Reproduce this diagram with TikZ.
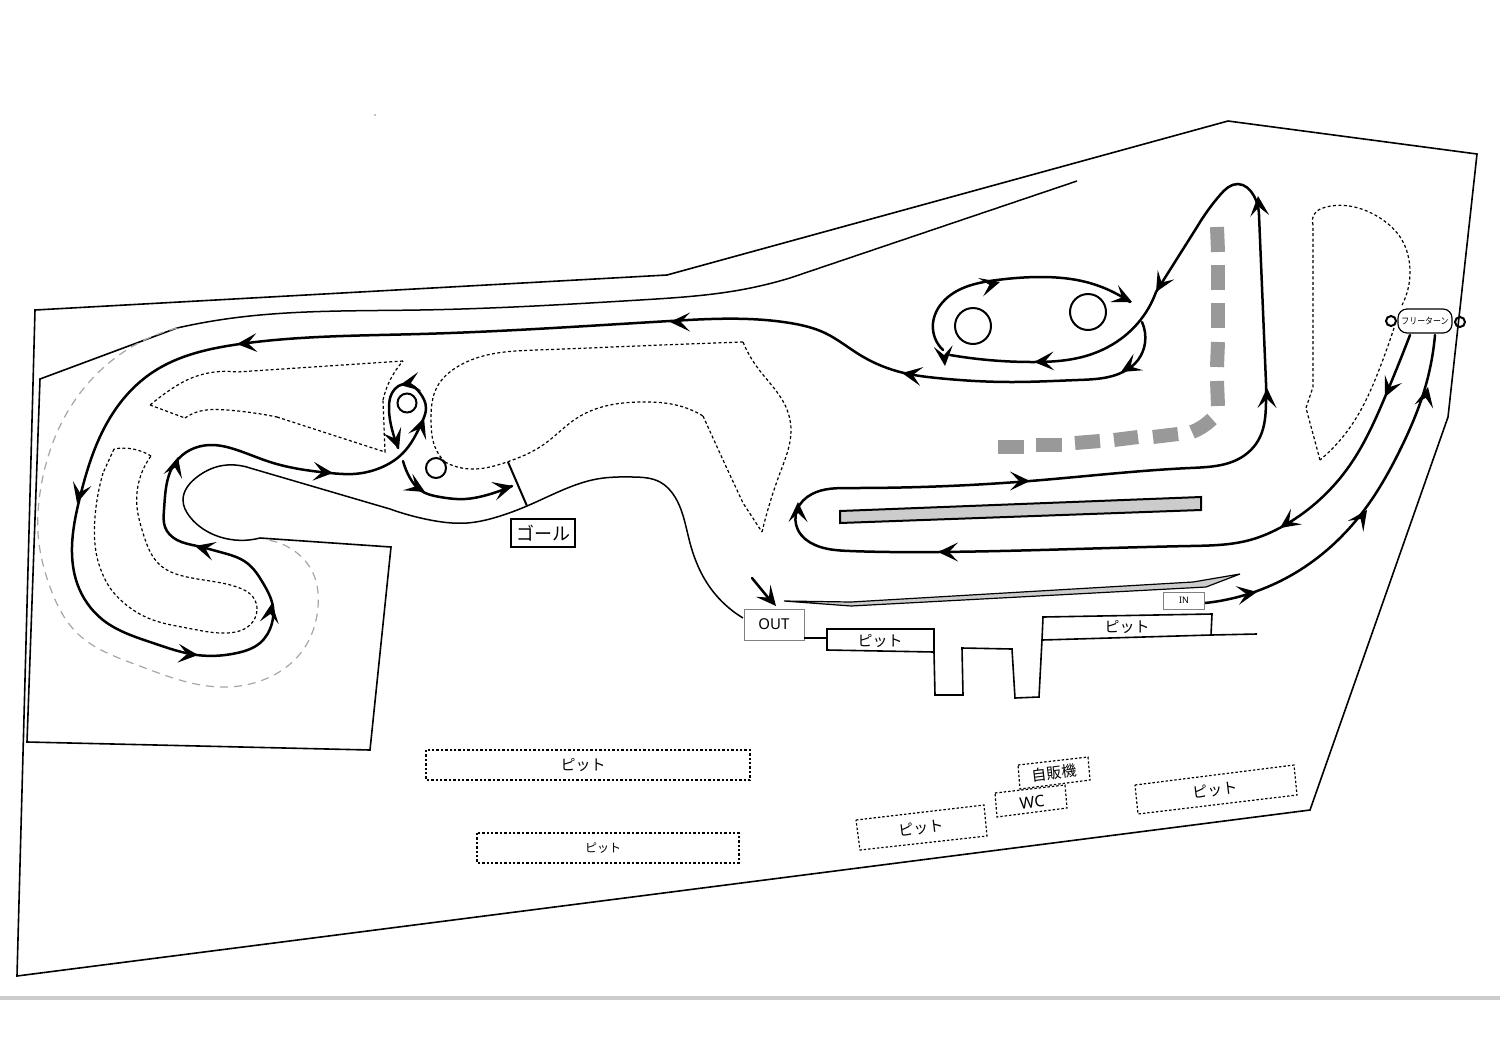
\documentclass[tikz,border=0pt]{standalone}
\usepackage{fontspec}
\setmainfont{Noto Sans CJK JP}
\newfontfamily\latinf{Noto Sans}
\usetikzlibrary{calc,hobby}
\newcommand\arrtip[3]{\fill[black,shift={(#1,#2)},rotate=#3] (0,0) -- (-20,9.5) -- (-11,0) -- (-20,-9.5) -- cycle;}
\newcommand\fsz[1]{\fontsize{#1}{#1}\selectfont}
\tikzset{
  track/.style={line width=1.25pt,black,line cap=round,use Hobby shortcut},
  thinline/.style={line width=0.75pt,black,line join=miter,use Hobby shortcut},
  border/.style={line width=0.8pt,black},
  dotline/.style={line width=0.6pt,black,dash pattern=on 1.5pt off 1.2pt,use Hobby shortcut},
  greydash/.style={line width=0.6pt,gray!70,dash pattern=on 4pt off 3pt,use Hobby shortcut},
  pillar/.style={line width=1pt,black},
  bigdash/.style={line width=7pt,gray!80,line cap=butt},
  dotbox/.style={line width=0.6pt,black,dash pattern=on 1.2pt off 1pt},
  lbl/.style={inner sep=0pt,text=black},
}
\begin{document}
\begin{tikzpicture}[x=0.5pt,y=-0.5pt]
\useasboundingbox (0,0) rectangle (1500,1061);
\fill[white] (0,0) rectangle (1500,1061);
% bottom band
\fill[gray!40] (0,996) rectangle (1500,1000);
\fill[black] (375,115) circle (0.6);
% site boundary
\draw[border] (35,310) -- (667,275) -- (1228,121) -- (1477,154) -- (1448,417) -- (1310,810) -- (17,976) -- cycle;
% inner field
\draw[border] (177,328) -- (40,379) -- (27,742) -- (370,750) -- (391,547) -- (260,538);
\draw[thinline] (177,328) .. (233,318) .. (420,310) .. (640,300) .. (740,290) .. (790,278);
\draw[thinline] (790,278) -- (1077,181);
% grey dashed run-off
\draw[greydash] (177,328) .. (103,368) .. (63,420) .. (40,493) .. (38,533) .. (50,587) .. (77,633) .. (137,665) .. (220,687) .. (270,677) .. (303,650) .. (318,607) .. (313,573) .. (293,550) .. (268,540);
% thin track edge
\draw[thinline] (743,618) .. (707,583) .. (690,543) .. (675,497) .. (660,482) .. (633,477) .. (597,479) .. (570,487) .. (527,506) .. (497,517) .. (467,523) .. (430,520) .. (390,509);
\draw[thinline] (390,509) -- (250,468);
\draw[thinline] (250,468) .. (235,465) .. (220,466) .. (197,477) .. (183,500) .. (190,517) .. (220,537) .. (260,538);
% dotted islands
\draw[dotline] (403,361) -- (237,372) .. (187,380) .. (167,392) .. (150,405);
\draw[dotline] (150,405) -- (185,418);
\draw[dotline] (185,418) .. (197,412) .. (227,410) .. (277,417);
\draw[dotline] (277,417) -- (385,452) -- (383,400);
\draw[dotline] (383,400) .. (387,387) .. (403,361);
\draw[dotline] (151,456) .. (133,449) .. (114,449);
\draw[dotline] (114,449) -- (103,473);
\draw[dotline] (103,473) .. (95,517) .. (97,557) .. (110,588);
\draw[dotline] (110,588) .. (153,620) .. (187,628) .. (227,633) .. (250,625) .. (257,610) .. (253,597) .. (237,587) .. (187,577) .. (160,565) .. (143,533) .. (137,507) .. (151,456);
\draw[dotline] (445,462) .. (470,469) .. (507,462) .. (543,445) .. (577,418) .. (610,405) .. (640,402) .. (680,406) .. (703,416);
\draw[dotline] (703,416) -- (723,460) -- (743,503) -- (762,532);
\draw[dotline] (762,532) .. (780,473) .. (791,430) .. (785,405) .. (757,367) .. (743,342);
\draw[dotline] (743,342) .. (637,346) .. (537,350) .. (487,355) .. (457,367) .. (437,387) .. (431,420) .. (435,447) .. (445,462);
\draw[dotline] (1320,460) -- (1306,408) -- (1313,387) -- (1313,225);
\draw[dotline] (1313,225) .. (1316,212) .. (1326,207) .. (1380,218) .. (1402,240) .. (1409,260) .. (1401,307);
\draw[dotline] (1394,328) .. (1379,370) .. (1353,423) .. (1320,460);
% central grey dashes
\draw[bigdash] (1217,227) -- (1218,252);
\draw[bigdash] (1218,265) -- (1218,290);
\draw[bigdash] (1218,303) -- (1218,328);
\draw[bigdash] (1218,342) -- (1217,367);
\draw[bigdash] (1217,381) -- (1218,406);
\draw[bigdash] (1212,419) to[bend left=10] (1192,432);
\draw[bigdash] (1178,434) -- (1153,437);
\draw[bigdash] (1138,437) -- (1114,440);
\draw[bigdash] (1100,441) -- (1075,443);
\draw[bigdash] (1062,445) -- (1036,445);
\draw[bigdash] (1024,447) -- (998,447);
% grey straight and sliver
\draw[pillar,fill=gray!40] (840,511) -- (1201,497) -- (1201,510) -- (840,523) -- cycle;
\draw[line width=0.6pt,black,fill=gray!40] (784,601) -- (851,606) -- (1206,587) -- (1240,574) -- (1193,582) -- (851,602) -- cycle;
% circles
\draw[pillar] (407,403) circle (9.5);
\draw[pillar] (436,468) circle (10);
\draw[pillar] (973,326) circle (18);
\draw[pillar] (1088,312) circle (18);
\draw[pillar] (1391,321) circle (5);
\draw[pillar] (1460,322) circle (5);
% main track
\draw[track] (1205,603) .. (1245,595) .. (1300,570) .. (1362,513) .. (1400,450) .. (1425,388) .. (1435,335);
\draw[track] (1410,335) .. (1385,397) .. (1350,465) .. (1285,525) .. (1250,540) .. (1190,546) .. (938,552) .. (850,551) .. (815,545) .. (798,530) .. (797,510) .. (812,494) .. (850,488) .. (1030,481) .. (1190,468) .. (1242,457) .. (1260,437) .. (1266,403) .. (1266,383);
\draw[track] (1266,383) -- (1259,215);
\draw[track] (1259,215) .. (1254,196) .. (1238,184) .. (1220,195) .. (1197,227);
\draw[track] (1197,227) -- (1156,292) .. (1138,323) .. (1108,347) .. (1078,358) .. (1034,362) .. (950,355);
\draw[track] (943,350) .. (933,323) .. (948,297) .. (997,280) .. (1041,277) .. (1086,282) .. (1130,302);
\draw[track] (1142,322) .. (1145,343) .. (1138,360) .. (1123,372) .. (1078,380) .. (1011,382) .. (937,378) .. (904,373) .. (860,355) .. (825,333) .. (790,323) .. (670,321) .. (420,334) .. (240,344) .. (153,372) .. (113,413) .. (80,497) .. (72,547) .. (77,583) .. (103,620) .. (153,643) .. (197,655) .. (237,653) .. (260,643) .. (272,623) .. (273,607) .. (263,583) .. (247,563) .. (220,552) .. (197,546) .. (177,540) .. (165,527) .. (164,510) .. (175,463) .. (190,450) .. (210,445) .. (237,450) .. (270,462) .. (330,473) .. (353,474) .. (380,468) .. (403,453) .. (422,422) .. (426,408) .. (420,393) .. (407,384) .. (392,393) .. (389,407) .. (393,433) .. (398,448);
\draw[track] (403,461) .. (410,478) .. (420,490) .. (440,497) .. (465,499) .. (487,495) .. (512,486);
% arrow heads
\arrtip{237}{344}{184}
\arrtip{77}{503}{255}
\arrtip{198}{655}{355}
\arrtip{272}{603}{82}
\arrtip{195}{546}{165}
\arrtip{178}{457}{75}
\arrtip{333}{473}{355}
\arrtip{424}{418}{70}
\arrtip{400}{385}{190}
\arrtip{399}{449}{290}
\arrtip{425}{492}{330}
\arrtip{513}{486}{15}
\arrtip{1030}{481}{0}
\arrtip{798}{502}{90}
\arrtip{938}{552}{180}
\arrtip{1280}{528}{215}
\arrtip{1385}{397}{245}
\arrtip{1428}{387}{78}
\arrtip{1257}{592}{10}
\arrtip{1367}{510}{55}
\arrtip{1267}{388}{90}
\arrtip{1258}{196}{95}
\arrtip{1156}{292}{240}
\arrtip{1034}{362}{183}
\arrtip{945}{366}{275}
\arrtip{1000}{282}{15}
\arrtip{1132}{302}{335}
\arrtip{1121}{372}{210}
\arrtip{902}{373}{170}
\arrtip{670}{322}{180}
% pits and paddock
\node[draw=black,line width=0.8pt,lbl,minimum width=32pt,minimum height=14pt] (goal) at (543,533) {\fsz{9}ゴール};
\coordinate (goalA) at (508,462);
\coordinate (goalB) at (527,506);
\draw[pillar] (goalA) -- (goalB);
\node[draw=gray,line width=0.5pt,fill=white,lbl,minimum width=30pt,minimum height=15.5pt] (out) at (774,624.5) {\fsz{7.5}\latinf OUT};
\coordinate (outarrow) at (752,578);
\coordinate (outtip) at (776,606);
\draw[track] (outarrow) -- (770,600);
\arrtip{776}{606}{310}
\draw[thinline,line width=0.8pt] (827,629) -- (934,629) -- (934,652) -- (827,650) -- cycle;
\draw[thinline,line width=0.8pt] (804,638) -- (827,638);
\draw[thinline,line width=0.8pt] (934,652) -- (935,695) -- (963,695) -- (962,648) -- (1012,649) -- (1015,698) -- (1039,697) -- (1042,640) -- (1043,617) -- (1212,614) -- (1211,635) -- (1042,640);
\draw[thinline,line width=0.8pt] (1211,635) -- (1257,634);
\node[lbl] (pit1) at (880,641) {\fsz{7.5}ピット};
\node[lbl] (pit2) at (1127,627) {\fsz{7.5}ピット};
\node[draw=gray,line width=0.4pt,fill=white,lbl,minimum width=20.5pt,minimum height=8.5pt] (in) at (1184,600.5) {\fsz{4.5}\latinf IN};
\node[draw=black,line width=0.6pt,fill=white,rounded corners=4.5pt,lbl,minimum width=27pt,minimum height=12pt] (free) at (1425,321) {\fsz{4.5}\scalebox{0.88}[1]{フリーターン}};
% dotted buildings
\draw[dotbox] (426,750) rectangle (750,780);
\node[lbl] (pit3) at (583,765) {\fsz{7.5}ピット};
\draw[dotbox] (477,833) rectangle (739,863);
\node[lbl] (pit4) at (603,848) {\fsz{6}ピット};
\draw[dotbox] (856,820) -- (984,805) -- (987,836) -- (860,850) -- cycle;
\node[lbl,rotate=7] (pit5) at (921,828) {\fsz{7.5}ピット};
\draw[dotbox,fill=white] (1018,765) -- (1088,757) -- (1090,780) -- (1020,789) -- cycle;
\node[lbl,rotate=7] (vend) at (1054,773) {\fsz{7.5}自販機};
\draw[dotbox,fill=white] (995,793) -- (1065,785) -- (1067,808) -- (997,817) -- cycle;
\node[lbl,rotate=7] (wc) at (1032,802) {\fsz{8}\latinf WC};
\draw[dotbox] (1135,785) -- (1294,765) -- (1297,795) -- (1138,814) -- cycle;
\node[lbl,rotate=7] (pit6) at (1215,790) {\fsz{7.5}ピット};
\end{tikzpicture}
\end{document}
